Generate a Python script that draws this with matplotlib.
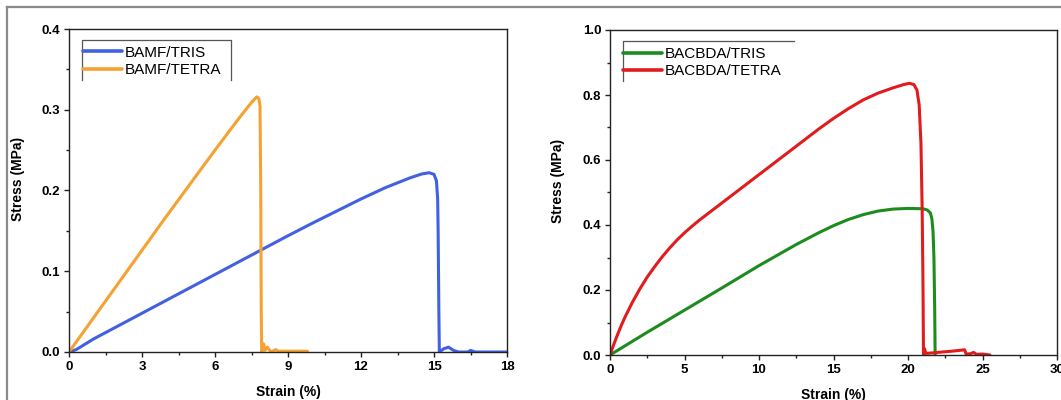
import matplotlib
matplotlib.use("Agg")
import matplotlib.pyplot as plt
from matplotlib.lines import Line2D
from matplotlib.ticker import MultipleLocator, FormatStrFormatter

plt.rcParams['font.family'] = ['Liberation Sans', 'DejaVu Sans']

# ---- BAMF series (left panel) ----
bamf_tris_strain = [0, 0.3, 1, 2, 3, 4, 5, 6, 7, 8, 9, 10, 11, 12, 13, 14, 14.5, 14.8,
                    15.0, 15.1, 15.15, 15.17, 15.2, 15.22, 15.4, 15.6, 15.8, 16.0, 16.4,
                    16.5, 16.7, 17, 18]
bamf_tris_stress = [0, 0.003, 0.016, 0.032, 0.048, 0.064, 0.080, 0.096, 0.112, 0.128, 0.144,
                    0.1595, 0.1745, 0.1895, 0.2035, 0.2155, 0.2205, 0.222,
                    0.220, 0.212, 0.19, 0.15, 0.05, 0.0, 0.004, 0.006, 0.002, 0.0, 0.0,
                    0.002, 0.0, 0.0, 0.0]

bamf_tetra_strain = [0, 1, 2, 3, 4, 5, 6, 7, 7.5, 7.72, 7.8, 7.85, 7.88, 7.9, 7.92,
                     8.0, 8.05, 8.15, 8.3, 8.5, 8.6, 9.0, 9.8]
bamf_tetra_stress = [0, 0.042, 0.084, 0.126, 0.168, 0.209, 0.250, 0.290, 0.309, 0.316,
                     0.314, 0.305, 0.2, 0.05, 0.0,
                     0.01, 0.002, 0.006, 0.0, 0.003, 0.001, 0.001, 0.001]

# ---- BACBDA series (right panel) ----
bacbda_tris_strain = [0, 1, 2.5, 5, 7.5, 10, 12.5, 14, 15, 16, 17, 18, 19, 20, 21, 21.3,
                      21.5, 21.6, 21.68, 21.74, 21.79, 21.82]
bacbda_tris_stress = [0, 0.028, 0.07, 0.138, 0.206, 0.275, 0.34, 0.376, 0.398, 0.417,
                      0.432, 0.443, 0.449, 0.451, 0.450, 0.446, 0.437, 0.42, 0.38, 0.3,
                      0.15, 0.0]

bacbda_tetra_strain = [0, 0.25, 0.5, 0.75, 1, 1.5, 2, 2.5, 3, 3.5, 4, 4.5, 5, 5.5, 6, 7,
                       8, 9, 10, 11, 12, 13, 14, 15, 16, 17, 18, 19, 19.7, 20.1, 20.4,
                       20.6, 20.75, 20.87, 20.95, 21.0, 21.04, 21.1, 21.2, 21.5, 22, 23,
                       23.8, 23.9, 24.2, 24.4, 24.6, 25, 25.5]
bacbda_tetra_stress = [0, 0.032, 0.062, 0.09, 0.116, 0.162, 0.203, 0.24, 0.272, 0.302,
                       0.329, 0.354, 0.376, 0.396, 0.415, 0.45, 0.485, 0.52, 0.555, 0.59,
                       0.625, 0.66, 0.695, 0.728, 0.758, 0.785, 0.806, 0.822, 0.832,
                       0.836, 0.832, 0.815, 0.77, 0.65, 0.45, 0.25,
                       0.0, 0.02, 0.005, 0.006, 0.008, 0.012,
                       0.016, 0.003, 0.004, 0.008, 0.002, 0.003, 0.0]

labels_left = ["BAMF/TRIS", "BAMF/TETRA"]
labels_right = ["BACBDA/TRIS", "BACBDA/TETRA"]

C_BLUE = '#4161E2'
C_ORANGE = '#F6A132'
C_GREEN = '#1D8B1D'
C_RED = '#E11C1C'

W, H = 1061, 400
fig = plt.figure(figsize=(W / 100, H / 100), dpi=100)
fig.patch.set_facecolor('white')


def px_axes(left, top, right, bottom):
    return fig.add_axes([left / W, 1 - bottom / H, (right - left) / W, (bottom - top) / H])


ax1 = px_axes(69, 29, 507, 352)
ax2 = px_axes(610, 30, 1057, 355)

lw = 2.2
line_kw = dict(lw=lw, solid_joinstyle='round', solid_capstyle='round')
ax1.plot(bamf_tris_strain, bamf_tris_stress, color=C_BLUE, label=labels_left[0], **line_kw)
ax1.plot(bamf_tetra_strain, bamf_tetra_stress, color=C_ORANGE, label=labels_left[1], **line_kw)
ax2.plot(bacbda_tris_strain, bacbda_tris_stress, color=C_GREEN, label=labels_right[0], **line_kw)
ax2.plot(bacbda_tetra_strain, bacbda_tetra_stress, color=C_RED, label=labels_right[1], **line_kw)

ax1.set_xlim(0, 18)
ax1.set_ylim(0, 0.4)
ax1.xaxis.set_major_locator(MultipleLocator(3))
ax1.xaxis.set_minor_locator(MultipleLocator(1.5))
ax1.yaxis.set_major_locator(MultipleLocator(0.1))
ax1.yaxis.set_minor_locator(MultipleLocator(0.05))

ax2.set_xlim(0, 30)
ax2.set_ylim(0, 1.0)
ax2.xaxis.set_major_locator(MultipleLocator(5))
ax2.xaxis.set_minor_locator(MultipleLocator(2.5))
ax2.yaxis.set_major_locator(MultipleLocator(0.2))
ax2.yaxis.set_minor_locator(MultipleLocator(0.1))

for ax in (ax1, ax2):
    ax.yaxis.set_major_formatter(FormatStrFormatter('%.1f'))
    for sp in ax.spines.values():
        sp.set_linewidth(1.0)
        sp.set_color('#222222')
    ax.tick_params(which='major', direction='out', length=3.8, width=1.0, color='#222222',
                   labelsize=9.5, pad=2.5)
    ax.tick_params(which='minor', direction='out', length=2.2, width=1.0, color='#222222')
    ax.tick_params(top=False, right=False, which='both')
    for t in ax.get_xticklabels() + ax.get_yticklabels():
        t.set_fontweight('bold')
    ax.set_xlabel("Strain (%)", fontsize=10, fontweight='bold')
    ax.set_ylabel("Stress (MPa)", fontsize=10, fontweight='bold')
    ax.yaxis.set_label_coords(-0.116, 0.535)
    ax.xaxis.set_label_coords(0.5, -0.124)
    ax.xaxis.label.set_va('center')
    ax.yaxis.label.set_va('center')

legend_kw = dict(loc='upper left', frameon=False, fontsize=11, handlelength=2.55,
                 handletextpad=0.2, labelspacing=0.22, borderpad=0.3, borderaxespad=0)
leg1 = ax1.legend(bbox_to_anchor=(0.0214, 0.963), **legend_kw)
leg2 = ax2.legend(bbox_to_anchor=(0.0192, 0.962), **legend_kw)
for leg in (leg1, leg2):
    for h in leg.get_lines():
        h.set_linewidth(2.6)

# partial legend box edges (top and left, plus right edge on the first panel)
ax1.add_line(Line2D([0.0297, 0.0297, 0.37, 0.37], [0.842, 0.966, 0.966, 0.842],
                    color='#555555', lw=0.9, transform=ax1.transAxes))
ax2.add_line(Line2D([0.029, 0.029, 0.4116], [0.843, 0.966, 0.966],
                    color='#555555', lw=0.9, transform=ax2.transAxes))

# outer panel border
fig.add_artist(Line2D([7 / W, 1.0], [1 - 7 / H, 1 - 7 / H], color='#8a8a8a', lw=1.6,
                      transform=fig.transFigure))
fig.add_artist(Line2D([7 / W, 7 / W], [0.0, 1 - 7 / H], color='#8a8a8a', lw=1.6,
                      transform=fig.transFigure))

fig.savefig("out.png", dpi=100)
